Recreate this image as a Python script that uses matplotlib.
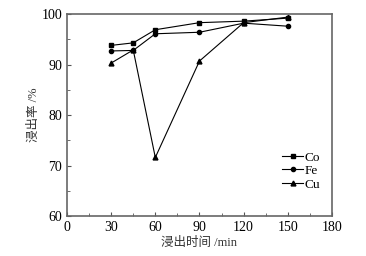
import matplotlib

matplotlib.use("Agg")
import matplotlib.pyplot as plt  # noqa: E402
from matplotlib.ticker import MultipleLocator  # noqa: E402

time_min = [30, 45, 60, 90, 120, 150]
co = [93.8, 94.3, 96.9, 98.3, 98.6, 99.2]
fe = [92.7, 92.8, 96.1, 96.4, 98.2, 97.6]
cu = [90.3, 92.9, 71.6, 90.7, 98.3, 99.4]

series = [("Co", co, "s"), ("Fe", fe, "o"), ("Cu", cu, "^")]

serif = ["Liberation Serif", "Noto Sans CJK SC"]
plt.rcParams["font.family"] = serif

fig = plt.figure(figsize=(3.66, 2.56), dpi=100)
ax = fig.add_axes([0.183, 0.156, 0.724, 0.789])

for name, vals, mk in series:
    ax.plot(time_min, vals, color="black", lw=0.8, marker=mk,
            markersize=3.5 if mk != "o" else 3, label=name)

ax.set_xlim(0, 180)
ax.set_ylim(60, 100)
ax.xaxis.set_major_locator(MultipleLocator(30))
ax.xaxis.set_minor_locator(MultipleLocator(15))
ax.yaxis.set_major_locator(MultipleLocator(10))
ax.yaxis.set_minor_locator(MultipleLocator(5))
ax.tick_params(which="both", direction="in", top=False, right=False,
               labelsize=10, color="#555555")
ax.tick_params(which="major", length=3)
ax.tick_params(which="minor", length=2)
for sp in ax.spines.values():
    sp.set_color("#666666")
    sp.set_linewidth(1.2)

ax.set_xlabel("浸出时间 /min", fontsize=9, color="#333333", labelpad=2)
ax.set_ylabel("浸出率 /%", fontsize=9, color="#333333", labelpad=1)

ax.legend(loc="lower right", bbox_to_anchor=(0.99, 0.08), frameon=False,
          fontsize=9.5, handlelength=1.6, handletextpad=0.1,
          labelspacing=0.1, borderpad=0.2)

fig.savefig("out.png", dpi=100)
